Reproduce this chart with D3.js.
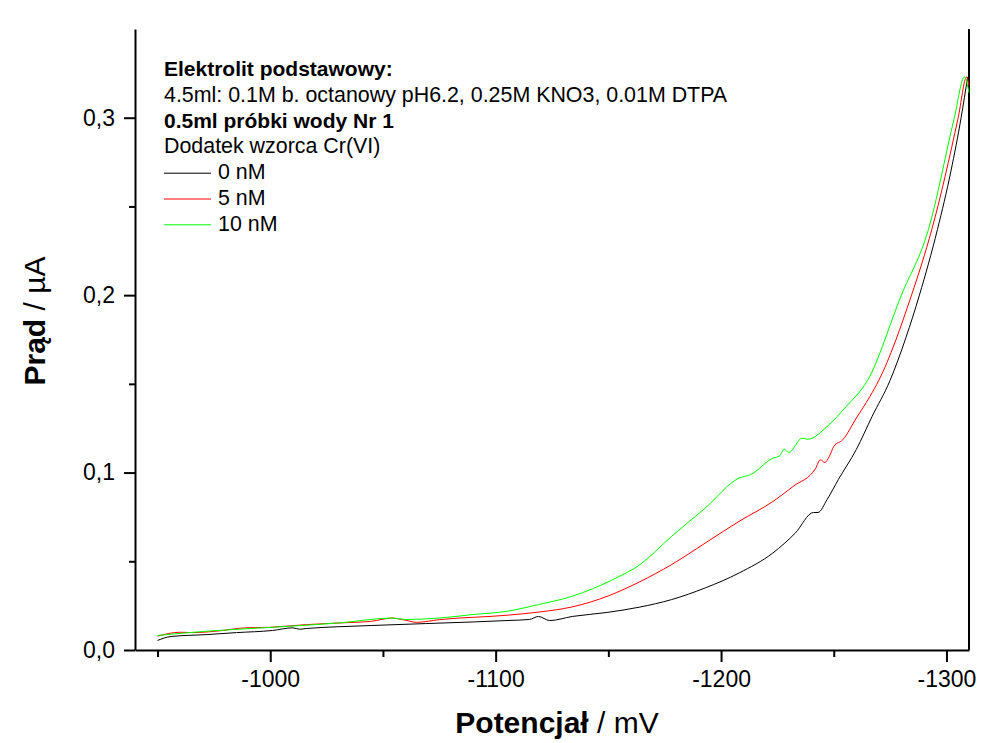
<!DOCTYPE html>
<html>
<head>
<meta charset="utf-8">
<script src="https://cdn.jsdelivr.net/npm/d3@7"></script>
<style>
  body { margin: 0; background: #fff; }
  text { font-family: Arial, "Liberation Sans", sans-serif; }
</style>
</head>
<body>
<script>
// potential (mV), current (uA) for each Cr(VI) addition
const curve0nM = [
    [-950, 0.0054], [-956, 0.0076], [-972, 0.0087], [-985, 0.0098], [-1001, 0.011],
    [-1010, 0.0125], [-1013, 0.0117], [-1016, 0.0121], [-1030, 0.0131], [-1045, 0.0138],
    [-1069, 0.0149], [-1090, 0.0158], [-1105, 0.0166], [-1115, 0.0172], [-1119, 0.0189],
    [-1124, 0.0166], [-1134, 0.0189], [-1149, 0.0211], [-1164, 0.0242], [-1178, 0.0284],
    [-1193, 0.035], [-1208, 0.0434], [-1223, 0.0547], [-1233, 0.066], [-1241, 0.0775],
    [-1243, 0.0775], [-1247, 0.0847], [-1252, 0.096], [-1260, 0.113], [-1267, 0.1316],
    [-1275, 0.152], [-1282, 0.176], [-1288, 0.2], [-1296, 0.237], [-1302, 0.27],
    [-1306.5, 0.3], [-1309.4, 0.323]
];
const curve5nM = [
    [-950, 0.0078], [-960, 0.01], [-966, 0.0098], [-976, 0.0106], [-989, 0.0125],
    [-1000, 0.0128], [-1016, 0.0143], [-1030, 0.0152], [-1045, 0.0162], [-1054, 0.018],
    [-1060, 0.0168], [-1065, 0.0156], [-1075, 0.0171], [-1105, 0.0196], [-1120, 0.0215],
    [-1134, 0.0243], [-1150, 0.0305], [-1164, 0.0385], [-1178, 0.0481], [-1193, 0.0603],
    [-1208, 0.0725], [-1223, 0.0837], [-1232, 0.0922], [-1242, 0.1025], [-1244, 0.1072],
    [-1246, 0.1057], [-1248, 0.109], [-1250, 0.1147], [-1254, 0.1185], [-1260, 0.1307],
    [-1266, 0.1428], [-1270, 0.152], [-1284.5, 0.2], [-1293.5, 0.237], [-1305.2, 0.3],
    [-1309, 0.323], [-1310, 0.318]
];
const curve10nM = [
    [-950, 0.0082], [-972, 0.0106], [-1001, 0.0128], [-1031, 0.0153], [-1054, 0.018],
    [-1060, 0.0172], [-1075, 0.018], [-1090, 0.02], [-1105, 0.0218], [-1119, 0.0256],
    [-1134, 0.0303], [-1152, 0.0397], [-1164, 0.0481], [-1178, 0.064], [-1193, 0.08],
    [-1208, 0.0969], [-1213, 0.0988], [-1223, 0.1081], [-1226, 0.1094], [-1228, 0.1132],
    [-1230, 0.1113], [-1236, 0.1194], [-1238.5, 0.1188], [-1247, 0.1259], [-1255.5, 0.1372],
    [-1265, 0.152], [-1280, 0.2], [-1292, 0.237], [-1303.5, 0.3], [-1308, 0.323],
    [-1310, 0.314]
];

const seriesNames = ["0 nM", "5 nM", "10 nM"];
const seriesColors = ["#000000", "#ff0000", "#00ff00"];

const xMajorTicks = [-1000, -1100, -1200, -1300];
const xMinorTicks = [-950, -1050, -1150, -1250];
const yMajorTicks = [0, 0.1, 0.2, 0.3];
const yMinorTicks = [0.05, 0.15, 0.25];

const legendLines = [
    {text: "Elektrolit podstawowy:", bold: true},
    {text: "4.5ml: 0.1M b. octanowy pH6.2, 0.25M KNO3, 0.01M DTPA", bold: false},
    {text: "0.5ml próbki wody Nr 1", bold: true},
    {text: "Dodatek wzorca Cr(VI)", bold: false}
];

// layout
const width = 1006, height = 743;
const margin = {top: 29, right: 37, bottom: 93, left: 135};

const svg = d3.select("body").append("svg")
    .attr("width", width)
    .attr("height", height);

const x = d3.scaleLinear()
    .domain([-940, -1310])
    .range([margin.left, width - margin.right]);

const y = d3.scaleLinear()
    .domain([0, 0.35])
    .range([height - margin.bottom, margin.top]);

// comma decimals, plain hyphen minus
const locale = d3.formatLocale({decimal: ",", thousands: "", grouping: [3], currency: ["", ""], minus: "-"});

// minor ticks first so the axis lines sit on top
svg.append("g")
    .attr("transform", "translate(0," + (height - margin.bottom) + ")")
    .call(d3.axisBottom(x).tickValues(xMinorTicks).tickSize(7).tickSizeOuter(0).tickFormat(""))
    .call(g => g.select(".domain").remove());

svg.append("g")
    .attr("transform", "translate(" + margin.left + ",0)")
    .call(d3.axisLeft(y).tickValues(yMinorTicks).tickSize(6).tickSizeOuter(0).tickFormat(""))
    .call(g => g.select(".domain").remove());

svg.append("g")
    .attr("transform", "translate(0," + (height - margin.bottom) + ")")
    .call(d3.axisBottom(x).tickValues(xMajorTicks).tickSize(12).tickSizeOuter(0)
        .tickPadding(9).tickFormat(locale.format("d")));

svg.append("g")
    .attr("transform", "translate(" + margin.left + ",0)")
    .call(d3.axisLeft(y).tickValues(yMajorTicks).tickSize(11).tickSizeOuter(0)
        .tickPadding(9).tickFormat(locale.format(".1f")));

svg.selectAll(".tick line").attr("stroke", "#000").attr("stroke-width", 2);
svg.selectAll(".domain").attr("stroke", "#000").attr("stroke-width", 2);
svg.selectAll(".tick text")
    .attr("fill", "#000")
    .style("font-size", "23px")
    .style("font-family", "Arial, 'Liberation Sans', sans-serif");

// right border of the frame
svg.append("line")
    .attr("x1", width - margin.right)
    .attr("x2", width - margin.right)
    .attr("y1", margin.top)
    .attr("y2", height - margin.bottom)
    .attr("stroke", "#000")
    .attr("stroke-width", 2);

// curves
const line = d3.line()
    .curve(d3.curveMonotoneX)
    .x(function (d) { return x(d[0]); })
    .y(function (d) { return y(d[1]); });

[curve0nM, curve5nM, curve10nM].forEach(function (curve, i) {
    svg.append("path")
        .datum(curve)
        .attr("d", line)
        .attr("fill", "none")
        .attr("stroke", seriesColors[i])
        .attr("stroke-width", 1);
});

// axis titles
const xTitle = svg.append("text")
    .attr("x", (margin.left + width - margin.right) / 2 + 5)
    .attr("y", 733)
    .attr("text-anchor", "middle")
    .style("font-size", "30px");
xTitle.append("tspan").style("font-weight", "bold").text("Potencjał");
xTitle.append("tspan").text(" / mV");

const yTitle = svg.append("text")
    .attr("transform", "translate(45," + 321 + ") rotate(-90)")
    .attr("text-anchor", "middle")
    .style("font-size", "30px");
yTitle.append("tspan").style("font-weight", "bold").text("Prąd");
yTitle.append("tspan").text(" / µA");

// legend
const legendX = 164, legendTop = 76, legendStep = 25.8;

legendLines.forEach(function (item, i) {
    svg.append("text")
        .attr("x", legendX)
        .attr("y", legendTop + i * legendStep)
        .style("font-size", item.bold ? "21px" : "21.4px")
        .style("font-weight", item.bold ? "bold" : "normal")
        .text(item.text);
});

seriesNames.forEach(function (name, i) {
    let yy = legendTop + (legendLines.length + i) * legendStep;
    svg.append("line")
        .attr("x1", legendX)
        .attr("x2", legendX + 47)
        .attr("y1", yy - 6)
        .attr("y2", yy - 6)
        .attr("stroke", seriesColors[i])
        .attr("stroke-width", 1);
    svg.append("text")
        .attr("x", legendX + 54)
        .attr("y", yy)
        .style("font-size", "21.4px")
        .text(name);
});
</script>
</body>
</html>
